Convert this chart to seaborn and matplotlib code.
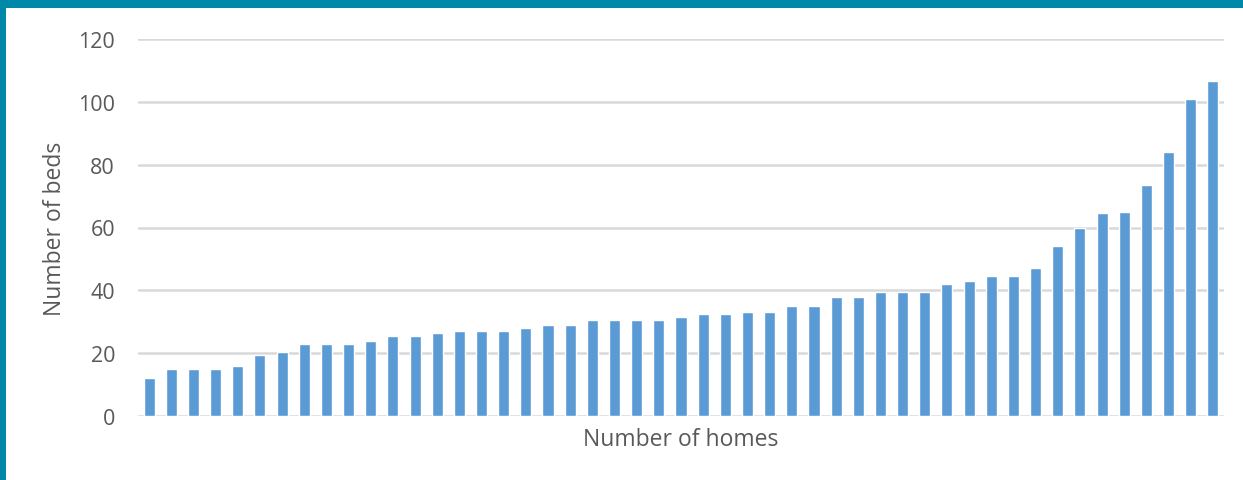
import matplotlib
matplotlib.use("Agg")
import matplotlib.pyplot as plt
from matplotlib.patches import Rectangle
import seaborn as sns
import pandas as pd

# Beds per care home, sorted ascending (one bar per home)
beds = [12, 15, 15, 15, 16, 19.5, 20.5, 23, 23, 23, 24, 25.5, 25.5, 26.5,
        27, 27, 27, 28, 29, 29, 30.5, 30.5, 30.5, 30.5, 31.5, 32.5, 32.5,
        33, 33, 35, 35, 38, 38, 39.5, 39.5, 39.5, 42, 43, 44.5, 44.5, 47,
        54, 60, 64.5, 65, 73.5, 84, 101, 106.5]
homes = list(range(1, len(beds) + 1))
y_ticks = [0, 20, 40, 60, 80, 100, 120]

df = pd.DataFrame({"home": homes, "beds": beds})

sns.set_theme(style="white")
plt.rcParams["font.family"] = ["Open Sans", "DejaVu Sans"]

BAR = "#5b9bd5"
GRID = "#d9d9d9"
TEXT = "#595959"
FRAME = "#0088a9"

fig = plt.figure(figsize=(12.43, 4.81), dpi=100)
fig.patch.set_facecolor("white")
ax = fig.add_axes([138 / 1243, 1 - 417 / 481, (1224 - 138) / 1243, (417 - 40) / 481])

sns.barplot(data=df, x="home", y="beds", color=BAR, saturation=1,
            width=0.5, ax=ax, zorder=3)

ax.set_ylim(0, 120)
ax.set_xlim(-0.5, len(beds) - 0.5)
ax.set_yticks(y_ticks)
ax.set_yticklabels([str(t) for t in y_ticks], fontsize=15.5, color=TEXT)
ax.set_xticks([])
ax.tick_params(axis="y", length=0, pad=16.5)
ax.yaxis.grid(True, color=GRID, linewidth=1.8, zorder=0)
ax.set_axisbelow(True)
for s in ax.spines.values():
    s.set_visible(False)

ax.set_ylabel("Number of beds", fontsize=16.5, color=TEXT, labelpad=8)
ax.set_xlabel("Number of homes", fontsize=16.5, color=TEXT, labelpad=8)

# Coloured frame strips along the top and left edges
fig.patches.append(Rectangle((0, 1 - 9 / 481), 1, 9 / 481, transform=fig.transFigure,
                             facecolor=FRAME, edgecolor="none", zorder=10))
fig.patches.append(Rectangle((0, 0), 6 / 1243, 1, transform=fig.transFigure,
                             facecolor=FRAME, edgecolor="none", zorder=10))

fig.savefig("out.png", dpi=100)
